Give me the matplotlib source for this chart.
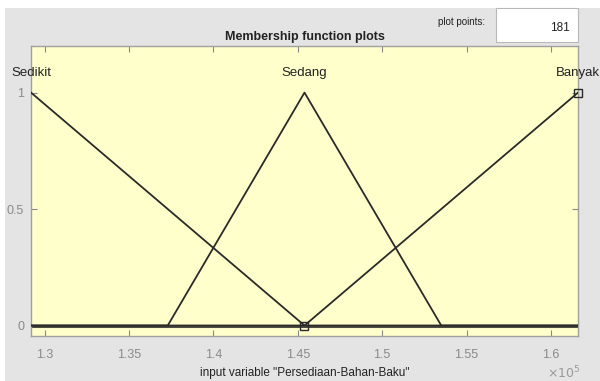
import matplotlib.pyplot as plt
from matplotlib.patches import Rectangle
import numpy as np

plt.rcParams['font.family'] = ['Liberation Sans', 'DejaVu Sans']

# membership functions for "Persediaan-Bahan-Baku" (trimf params)
x_range = [129200, 161600]
mf_names = ['Sedikit', 'Sedang', 'Banyak']
mf_params = [[129200, 129200, 145400],
             [137300, 145400, 153500],
             [145400, 161600, 161600]]
plot_points = 181
var_name = 'Persediaan-Bahan-Baku'


def trimf(x, a, b, c):
    y = np.zeros_like(x)
    if b > a:
        m = (x >= a) & (x <= b)
        y[m] = (x[m] - a) / (b - a)
    else:
        y[x == a] = 1.0
    if c > b:
        m = (x >= b) & (x <= c)
        y[m] = (c - x[m]) / (c - b)
    return y


fig = plt.figure(figsize=(6, 3.81), dpi=100)
fig.patch.set_facecolor('white')
# grey panel behind the axes
fig.patches.append(Rectangle((5 / 600, 0), 1, 1 - 8 / 381, transform=fig.transFigure,
                             facecolor='#e4e4e4', edgecolor='none', zorder=-10))
# plot points box
fig.patches.append(Rectangle((496 / 600, 1 - 42 / 381), 82 / 600, 34 / 381,
                             transform=fig.transFigure, facecolor='white',
                             edgecolor='#b8b8b8', lw=0.8, zorder=-5))
fig.text(485 / 600, 1 - 22 / 381, 'plot points:', ha='right', va='center',
         fontsize=7, color='#222222')
fig.text(570 / 600, 1 - 28 / 381, str(plot_points), ha='right', va='center',
         fontsize=8.5, color='#222222')

ax = fig.add_axes([31 / 600, 45 / 381, 547 / 600, 290 / 381])
ax.set_facecolor('#ffffcc')

x = np.linspace(x_range[0], x_range[1], plot_points)
for name, p in zip(mf_names, mf_params):
    y = trimf(x, *p)
    ax.plot(x, y, color='#2a2a2a', lw=1.3, zorder=3)
    ax.text(p[1], 1.085, name, ha='center', va='center', fontsize=9.5,
            color='#222222', clip_on=False)

ax.plot(x_range, [0, 0], color='#4d4d42', lw=2.2, zorder=2)
ax.plot([145400, 161600], [0, 1], ls='none', marker='s', ms=6, mfc='none',
        mec='#2a2a2a', mew=1, zorder=4, clip_on=False)

ax.set_xlim(x_range)
ax.set_ylim(-0.045, 1.2)
ax.set_xticks([130000, 135000, 140000, 145000, 150000, 155000, 160000])
ax.set_xticklabels(['1.3', '1.35', '1.4', '1.45', '1.5', '1.55', '1.6'])
ax.set_yticks([0, 0.5, 1])
ax.set_yticklabels(['0', '0.5', '1'])
ax.tick_params(direction='in', length=4, width=0.8, color='#888888',
               labelcolor='#8a8a8a', labelsize=9, top=True, right=True, pad=5)
ax.tick_params(axis='x', pad=9)
for s in ax.spines.values():
    s.set_color('#a0a0a0')
    s.set_linewidth(1)

ax.set_title('Membership function plots', fontsize=9, fontweight='bold',
             color='#222222', pad=4)
ax.set_xlabel('input variable "%s"' % var_name, fontsize=8.5, color='#222222',
              labelpad=5)
fig.text(564 / 600, 1 - 373 / 381, r'$\times10^5$', ha='center', va='center',
         fontsize=9, color='#999999')

plt.savefig('out.png', dpi=100)
